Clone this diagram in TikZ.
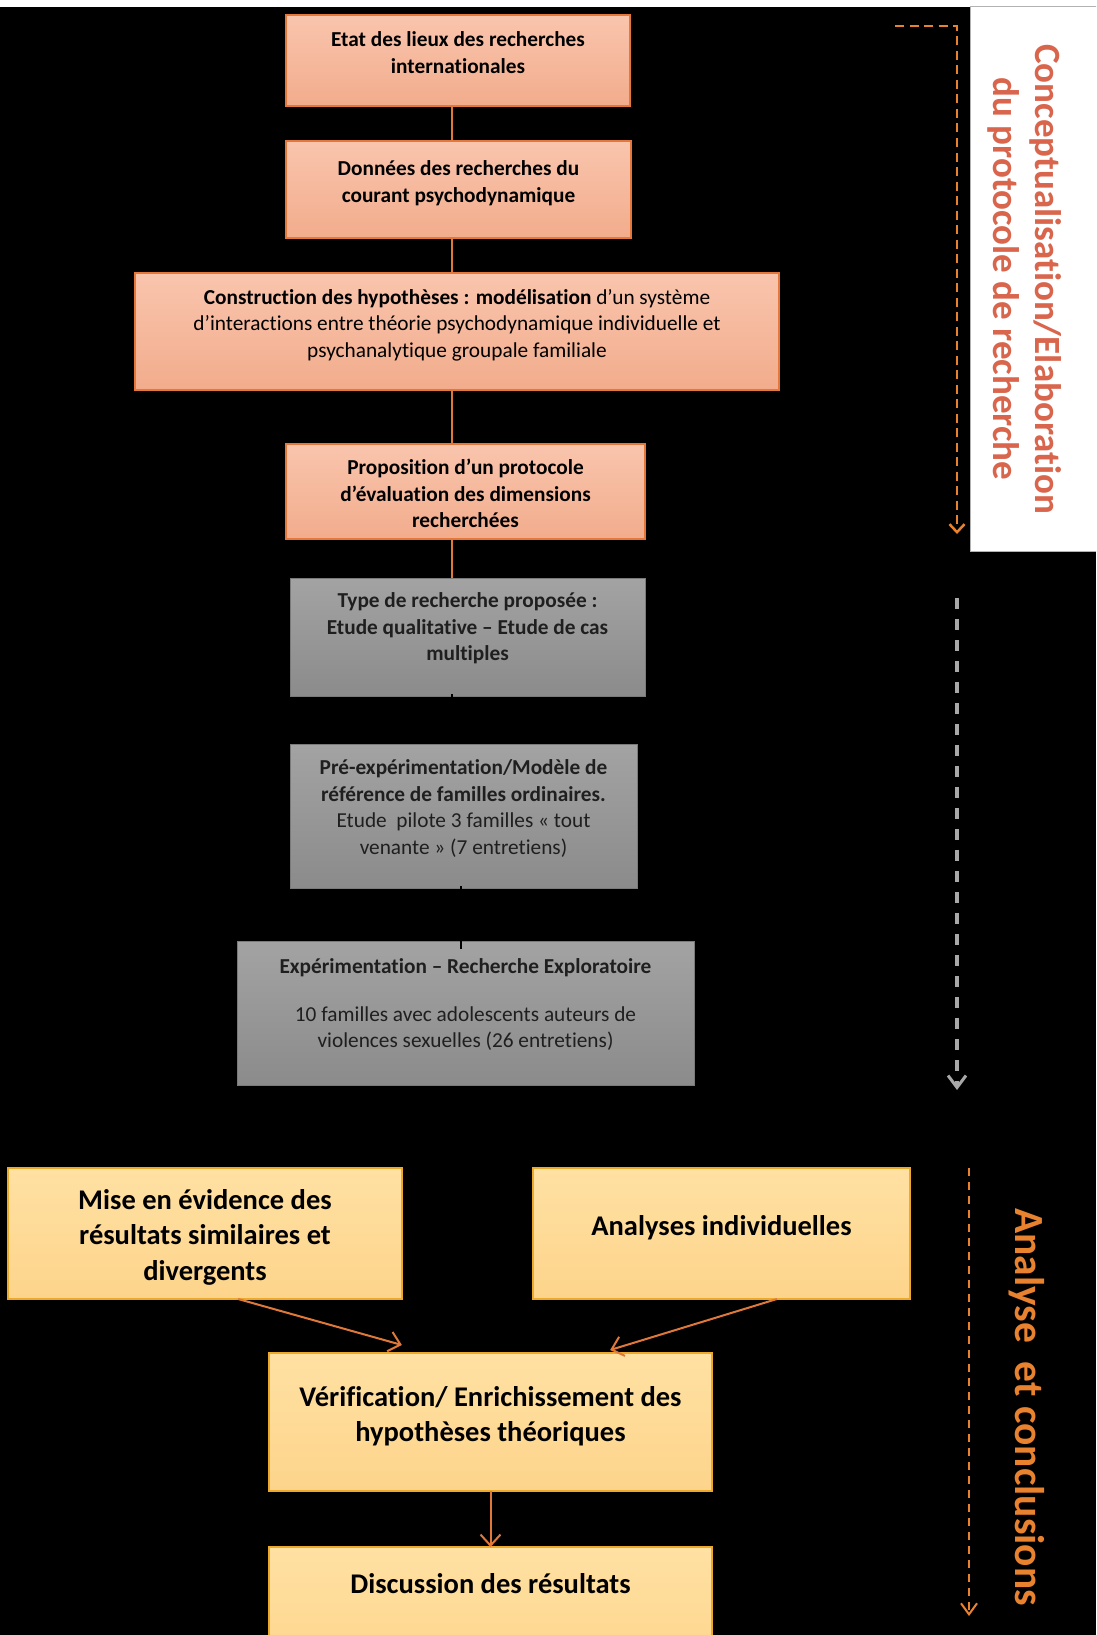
\documentclass[tikz,border=0pt]{standalone}
\usepackage{fontspec}
\setmainfont{Carlito}[Ligatures=NoCommon]
\usetikzlibrary{arrows.meta,calc}
\definecolor{salT}{HTML}{F9C5AD}
\definecolor{salB}{HTML}{F2AC8C}
\definecolor{salE}{HTML}{E5773A}
\definecolor{gryT}{HTML}{A3A3A3}
\definecolor{gryB}{HTML}{8B8B8B}
\definecolor{gryE}{HTML}{7A7A7A}
\definecolor{ylwT}{HTML}{FFE1A3}
\definecolor{ylwB}{HTML}{FDD48B}
\definecolor{ylwE}{HTML}{EDA92A}
\definecolor{conn}{HTML}{E0783A}
\definecolor{labred}{HTML}{D8654C}
\definecolor{laborg}{HTML}{E9822F}
\definecolor{dashgry}{HTML}{A8A8A8}
\newcommand\boxtxt[4]{\parbox[c][#1][t]{#2}{\centering\vspace*{#3}#4\par}}
\begin{document}
\begin{tikzpicture}[x=1pt,y=-1pt,
  base/.style={anchor=north west, inner sep=0pt, outer sep=0pt},
  salbox/.style={base, draw=salE, line width=1.5pt, top color=salT, bottom color=salB, font=\fontsize{21.3}{26.5}\selectfont, text=black},
  grybox/.style={base, draw=gryE, line width=1pt, top color=gryT, bottom color=gryB, font=\fontsize{21.3}{26.5}\selectfont, text=black!88},
  ylwbox/.style={base, draw=ylwE, line width=1.5pt, top color=ylwT, bottom color=ylwB, font=\bfseries\fontsize{28.5}{35.5}\selectfont, text=black},
  link/.style={draw=conn, line width=1.5pt},
  hidden/.style={draw=black, line width=1.5pt},
  flow/.style={draw=conn, line width=2pt, -{Straight Barb[length=11pt,width=20pt]}},
  odash/.style={draw=laborg, line width=2.5pt, dash pattern=on 9pt off 5.5pt, -{Straight Barb[length=8pt,width=15pt]}},
  gdash/.style={draw=dashgry, line width=3.5pt, dash pattern=on 11pt off 10pt, -{Straight Barb[length=12pt,width=18pt,line width=3pt]}},
  odashb/.style={draw=laborg, line width=2pt, dash pattern=on 8pt off 6pt, -{Straight Barb[length=11pt,width=16pt]}},
  lab/.style={inner sep=0pt, font=\bfseries\fontsize{37}{44}\selectfont, rotate=-90}
]
\useasboundingbox (0,0) rectangle (1096,1635);
\clip (0,0) rectangle (1096,1635);
\fill[black] (0,0) rectangle (1096,1635);
\fill[white] (0,0) rectangle (1096,7);
\filldraw[fill=white, draw=gray!60, line width=1pt] (970,7) rectangle (1100,551);

% conceptualisation boxes
\node[salbox] (b1) at (286,15) {\boxtxt{91pt}{344pt}{17pt}{\textbf{Etat des lieux des recherches\\internationales}}};
\node[salbox] (b2) at (286,141) {\boxtxt{97pt}{345pt}{20pt}{\textbf{Données des recherches du\\courant psychodynamique}}};
\node[salbox] (b3) at (135,273) {\boxtxt{117pt}{644pt}{16pt}{\textbf{Construction des hypothèses : modélisation} d’un système\\d’interactions entre théorie psychodynamique individuelle et\\psychanalytique groupale familiale}};
\node[salbox] (b4) at (286,444) {\boxtxt{95pt}{359pt}{15pt}{\textbf{Proposition d’un protocole\\d’évaluation des dimensions\\recherchées}}};
\node[grybox] (b5) at (290,578) {\boxtxt{118pt}{355pt}{15pt}{\textbf{Type de recherche proposée :\\Etude qualitative – Etude de cas\\multiples}}};
\node[grybox] (b6) at (290,744) {\boxtxt{144pt}{347pt}{16pt}{\textbf{Pré-expérimentation/Modèle de\\référence de familles ordinaires.}\\Etude~~pilote 3 familles « tout\\venante » (7 entretiens)}};
\node[grybox] (b7) at (237,941) {\boxtxt{144pt}{457pt}{18pt}{\textbf{Expérimentation – Recherche Exploratoire}\\[21pt]10 familles avec adolescents auteurs de\\violences sexuelles (26 entretiens)}};

% analysis boxes
\node[ylwbox] (b8) at (8,1168) {\boxtxt{131pt}{394pt}{21pt}{Mise en évidence des\\résultats similaires et\\divergents}};
\node[ylwbox] (b9) at (533,1168) {\boxtxt{131pt}{377pt}{47pt}{Analyses individuelles}};
\node[ylwbox] (b10) at (269,1353) {\boxtxt{138pt}{443pt}{33pt}{Vérification/ Enrichissement des\\hypothèses théoriques}};
\node[ylwbox] (b11) at (269,1547) {\boxtxt{130pt}{443pt}{26pt}{Discussion des résultats}};

% connectors
\coordinate (sp) at (452,0);
\coordinate (sp2) at (461,0);
\draw[link] (b1.south -| sp) -- (b2.north -| sp);
\draw[link] (b2.south -| sp) -- (b3.north -| sp);
\draw[link] (b3.south -| sp) -- (b4.north -| sp);
\draw[link] (b4.south -| sp) -- (b5.north -| sp);
\draw[hidden, shorten <=-2pt] (b5.south -| sp) -- (b6.north -| sp);
\draw[hidden, shorten <=-2pt, shorten >=-8pt] (b6.south -| sp2) -- (b7.north -| sp2);

\draw[flow] ($(b8.south west)!0.584!(b8.south east)$) -- ($(b10.north west)!0.30!(b10.north east)+(0,-8)$);
\draw[flow] ($(b9.south west)!0.647!(b9.south east)$) -- ($(b10.north west)!0.77!(b10.north east)+(0,-3)$);
\draw[flow] (b10.south) -- (b11.north);

% side dashed arrows
\coordinate (o1s) at (895,26);
\coordinate (o1e) at (957,534);
\draw[odash] (o1s) -| (o1e);
\coordinate (g1s) at (957,598);
\coordinate (g1e) at (957,1090);
\draw[gdash] (g1s) -- (g1e);
\coordinate (o2s) at (969,1168);
\coordinate (o2e) at (969,1616);
\draw[odashb] (o2s) -- (o2e);

% side labels
\node[lab, text=labred] (l1a) at (1046,279) {Conceptualisation/Elaboration};
\node[lab, text=labred] (l1b) at (1004,279) {du protocole de recherche};
\node[lab, text=laborg, font=\bfseries\fontsize{41.5}{48}\selectfont] (l2) at (1027,1407) {Analyse~~et conclusions};
\end{tikzpicture}
\end{document}
